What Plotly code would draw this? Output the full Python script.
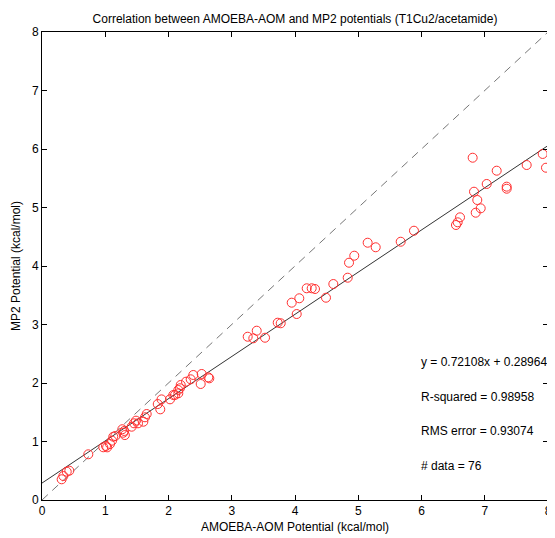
import plotly.graph_objects as go

amoeba = [0.311, 0.337, 0.391, 0.432, 0.732, 0.969, 1.012, 1.075, 1.107, 1.127, 1.159, 1.03,
          1.27, 1.30, 1.31, 1.285,
          1.418, 1.455, 1.486, 1.602, 1.628, 1.655, 1.518,
          1.83, 1.87, 1.89, 2.024,
          2.076, 2.103, 2.155, 2.193, 2.277, 2.351, 2.392, 2.509, 2.525, 2.629, 2.645, 2.155, 2.18,
          3.252, 3.341, 3.395, 3.526, 3.727, 3.774, 3.948, 4.027, 4.068, 4.185, 4.264, 4.316,
          4.490, 4.606, 4.833, 4.854, 4.937, 5.149, 5.276, 5.671, 5.881,
          6.545, 6.572, 6.609, 6.809, 6.830, 6.882, 6.857, 6.936, 7.031, 7.189, 7.347, 7.347,
          7.663, 7.916, 7.968]
mp2 = [0.354, 0.410, 0.484, 0.501, 0.781, 0.901, 0.923, 0.957, 1.014, 1.082, 1.094, 0.90,
       1.21, 1.18, 1.11, 1.15,
       1.253, 1.311, 1.356, 1.338, 1.414, 1.470, 1.311,
       1.64, 1.55, 1.72, 1.721,
       1.795, 1.795, 1.880, 1.966, 2.022, 2.063, 2.137, 1.983, 2.154, 2.097, 2.080, 1.824, 1.91,
       2.791, 2.764, 2.894, 2.774, 3.031, 3.021, 3.373, 3.179, 3.448, 3.619, 3.619, 3.607,
       3.458, 3.692, 3.800, 4.056, 4.176, 4.398, 4.320, 4.415, 4.603,
       4.701, 4.747, 4.832, 5.851, 5.270, 5.128, 4.911, 4.986, 5.402, 5.629, 5.356, 5.321,
       5.726, 5.915, 5.680]

slope = 0.72108
intercept = 0.28964
line_x = [0, 8]
line_y = [intercept + slope * v for v in line_x]
ident = [0, 8]
ticks = [0, 1, 2, 3, 4, 5, 6, 7, 8]
stats = ["y = 0.72108x + 0.28964", "R-squared = 0.98958", "RMS error = 0.93074", "# data = 76"]
stat_y = [2.36, 1.76, 1.18, 0.58]

font = "Liberation Sans, Arial, Helvetica, sans-serif"

# page body has an 8px default margin, so the figure is offset by (8, 8)
W, H = 547, 530
L, R, T, B = 34, 7, 24, 38
plot_h = H - T - B

fig = go.Figure()
fig.add_trace(go.Scatter(x=ident, y=ident, mode="lines",
                         line=dict(color="#777777", width=1, dash="8px,6px"), hoverinfo="skip"))
fig.add_trace(go.Scatter(x=line_x, y=line_y, mode="lines",
                         line=dict(color="#333333", width=1), hoverinfo="skip"))
fig.add_trace(go.Scatter(x=amoeba, y=mp2, mode="markers", cliponaxis=False,
                         marker=dict(symbol="circle-open", size=9, color="#ff3030",
                                     line=dict(width=1, color="#ff3030"))))

for t, yy in zip(stats, stat_y):
    fig.add_annotation(x=5.96, y=yy, text=t, showarrow=False, xanchor="left", yanchor="middle",
                       font=dict(size=12, color="black", family=font))

fig.add_annotation(x=0.5, xref="paper", y=-27 / plot_h, yref="paper", yanchor="middle",
                   text="AMOEBA-AOM Potential (kcal/mol)", showarrow=False,
                   font=dict(size=12, color="black", family=font))

axis_common = dict(range=[0, 8], tickvals=ticks, ticks="inside", ticklen=5, tickcolor="black",
                   showline=True, linecolor="black", linewidth=1, mirror="ticks", automargin=False,
                   showgrid=False, zeroline=False, tickfont=dict(size=12, color="black", family=font))

fig.update_layout(
    width=W, height=H,
    margin=dict(l=L, r=R, t=T, b=B),
    paper_bgcolor="white", plot_bgcolor="white",
    showlegend=False,
    title=dict(text="Correlation between AMOEBA-AOM and MP2 potentials (T1Cu2/acetamide)",
               x=(L + W - R) / 2 / W, xanchor="center", y=1 - 11 / H, yanchor="middle",
               font=dict(size=12, color="black", family=font)),
    xaxis=dict(axis_common, ticklabelstandoff=0),
    yaxis=dict(axis_common,
               title=dict(text="MP2 Potential (kcal/mol)", standoff=8,
                          font=dict(size=12, color="black", family=font))),
)

fig.write_html("out.html")
